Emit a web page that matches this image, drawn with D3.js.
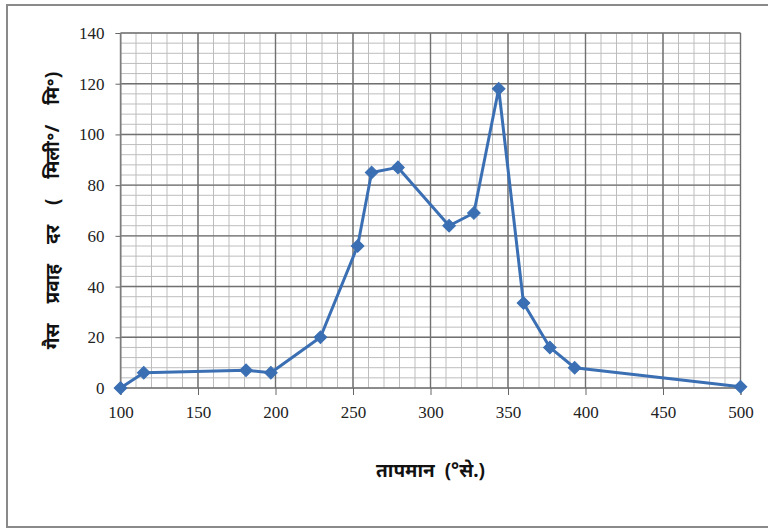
<!DOCTYPE html>
<html>
<head>
<meta charset="utf-8">
<script src="https://cdn.jsdelivr.net/npm/d3@7"></script>
<style>
  body { margin: 0; background: #fff; }
  svg { display: block; }
</style>
</head>
<body>
<figure id="gas-flow" style="margin:0"></figure>
<script>
// temperature (°C) vs gas flow rate
const temperature = [100, 115, 181, 197, 229, 253, 262, 279, 312, 328, 344, 360, 377, 393, 500];
const flowRate = [0, 6, 7, 6, 20, 56, 85, 87, 64, 69, 118, 33.5, 16, 8, 0.5];
const xTicks = [100, 150, 200, 250, 300, 350, 400, 450, 500];
const yTicks = [0, 20, 40, 60, 80, 100, 120, 140];

const width = 768, height = 530;
const plotLeft = 120.5, plotRight = 740.5, plotTop = 33, plotBottom = 388;

const svg = d3.select("figure#gas-flow")
  .append("svg")
  .attr("width", width)
  .attr("height", height);

// outer frame
svg.append("rect")
  .attr("x", 7).attr("y", 5)
  .attr("width", 770).attr("height", 522)
  .attr("fill", "none")
  .attr("stroke", "#8a8a8a")
  .attr("stroke-width", 2);

const x = d3.scaleLinear().domain([100, 500]).range([plotLeft, plotRight]);
const y = d3.scaleLinear().domain([0, 140]).range([plotBottom, plotTop]);

// minor grid
const grid = svg.append("g");
grid.selectAll("line.vminor")
  .data(d3.range(100, 501, 10))
  .enter().append("line")
  .attr("x1", d => x(d)).attr("x2", d => x(d))
  .attr("y1", plotTop).attr("y2", plotBottom)
  .attr("stroke", "#bdbdbd").attr("stroke-width", 1);
grid.selectAll("line.hminor")
  .data(d3.range(0, 141, 4))
  .enter().append("line")
  .attr("x1", plotLeft).attr("x2", plotRight)
  .attr("y1", d => y(d)).attr("y2", d => y(d))
  .attr("stroke", "#bdbdbd").attr("stroke-width", 1);

// major grid
grid.selectAll("line.vmajor")
  .data(xTicks)
  .enter().append("line")
  .attr("x1", d => x(d)).attr("x2", d => x(d))
  .attr("y1", plotTop).attr("y2", plotBottom)
  .attr("stroke", "#707070").attr("stroke-width", 1.4);
grid.selectAll("line.hmajor")
  .data(yTicks)
  .enter().append("line")
  .attr("x1", plotLeft).attr("x2", plotRight)
  .attr("y1", d => y(d)).attr("y2", d => y(d))
  .attr("stroke", "#707070").attr("stroke-width", 1.4);

// axes
const xaxis = svg.append("g")
  .attr("transform", "translate(0," + plotBottom + ")")
  .call(d3.axisBottom(x).tickValues(xTicks).tickSize(7).tickPadding(11).tickFormat(d3.format("d")));
xaxis.select("path").style("stroke", "#8a8a8a");
xaxis.selectAll("line").style("stroke", "#666");
xaxis.selectAll("text")
  .style("font-family", "'Liberation Serif', 'DejaVu Serif', serif")
  .style("font-size", "17px")
  .style("fill", "#222");

const yaxis = svg.append("g")
  .attr("transform", "translate(" + plotLeft + ",0)")
  .call(d3.axisLeft(y).tickValues(yTicks).tickSize(5).tickPadding(11));
yaxis.select("path").style("stroke", "#8a8a8a");
yaxis.selectAll("line").style("stroke", "#666");
yaxis.selectAll("text")
  .style("font-family", "'Liberation Serif', 'DejaVu Serif', serif")
  .style("font-size", "17px")
  .style("fill", "#222");

// series line
const line = d3.line()
  .x((d, i) => x(temperature[i]))
  .y(d => y(d));

svg.append("path")
  .datum(flowRate)
  .attr("d", line)
  .attr("fill", "none")
  .attr("stroke", "#3b6fb3")
  .attr("stroke-width", 3)
  .attr("stroke-linejoin", "round");

// diamond markers
svg.selectAll("markers")
  .data(flowRate)
  .enter()
  .append("path")
  .attr("d", d3.symbol().type(d3.symbolSquare).size(80))
  .attr("transform", (d, i) => "translate(" + x(temperature[i]) + "," + y(d) + ") rotate(45)")
  .attr("fill", "#3b6fb3")
  .attr("stroke", "#3b6fb3")
  .attr("stroke-width", 1);

// axis titles
svg.append("text")
  .attr("text-anchor", "middle")
  .attr("x", (plotLeft + plotRight) / 2)
  .attr("y", 477)
  .style("font-family", "'Noto Sans', 'DejaVu Sans', sans-serif")
  .style("font-weight", "bold")
  .style("font-size", "19px")
  .style("word-spacing", "5px")
  .style("fill", "#111")
  .text("तापमान  (°से.)");

svg.append("text")
  .attr("text-anchor", "middle")
  .attr("transform", "translate(59," + (plotTop + plotBottom) / 2 + ") rotate(-90)")
  .style("font-family", "'Noto Sans', 'DejaVu Sans', sans-serif")
  .style("font-weight", "bold")
  .style("font-size", "19px")
  .style("word-spacing", "15px")
  .style("fill", "#111")
  .text("गैस प्रवाह दर ( मिली॰/ मि॰)");
</script>
</body>
</html>
